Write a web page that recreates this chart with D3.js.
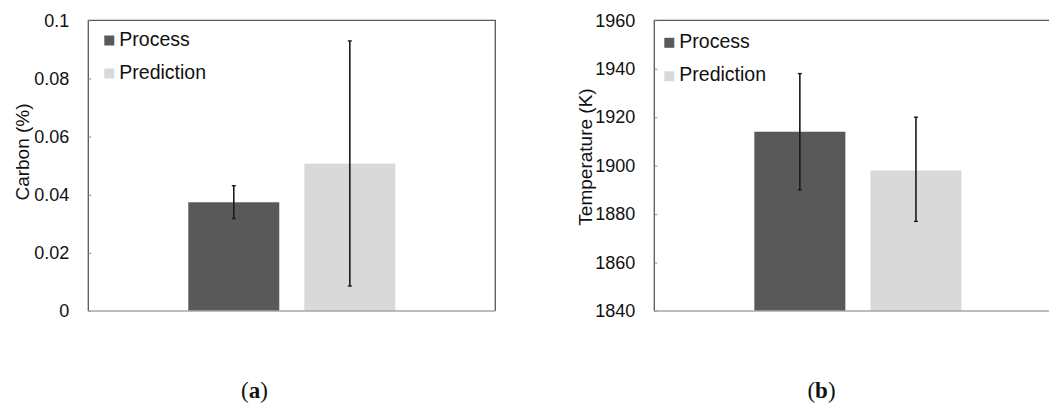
<!DOCTYPE html>
<html>
<head>
<meta charset="utf-8">
<script src="https://cdn.jsdelivr.net/npm/d3@7"></script>
<style>
  html, body { margin: 0; padding: 0; background: #fff; }
  svg { display: block; }
</style>
</head>
<body>
<svg id="chart" width="1049" height="405"></svg>
<script>
// ---- data ----
const series = ["Process", "Prediction"];
const seriesColors = ["#595959", "#d9d9d9"];
const group = ["all"];

const carbonMean = [0.0374, 0.0507];
const carbonLow  = [0.0318, 0.0086];
const carbonHigh = [0.0431, 0.0929];
const carbonTicks = [0, 0.02, 0.04, 0.06, 0.08, 0.1];
const carbonTickLabels = ["0", "0.02", "0.04", "0.06", "0.08", "0.1"];

const tempMean = [1914, 1898];
const tempLow  = [1890, 1877];
const tempHigh = [1938, 1920];
const tempTicks = [1840, 1860, 1880, 1900, 1920, 1940, 1960];
const tempTickLabels = ["1840", "1860", "1880", "1900", "1920", "1940", "1960"];

const svg = d3.select("#chart");
const sans = "'Liberation Sans', Arial, sans-serif";

function panel(opts) {
  const { left, right, top, bottom, domain, mean, low, high, ticks, tickLabels,
          yTitle, titleX, titleY, legendX, legendY, legendGap, caption, captionX } = opts;
  const g = svg.append("g");

  const y = d3.scaleLinear().domain(domain).range([bottom, top]);
  const x0 = d3.scaleBand().domain(group).range([left, right]).paddingInner(0).paddingOuter(0.483);
  const x1 = d3.scaleBand().domain(series).range([0, x0.bandwidth()]).paddingInner(0.216).paddingOuter(0);
  const color = d3.scaleOrdinal().domain(series).range(seriesColors);

  const rows = series.map((s, i) => ({ s, v: mean[i], lo: low[i], hi: high[i] }));

  // frame (left, top, right)
  g.append("path")
    .attr("d", `M${left},${bottom}V${top}H${right}V${bottom}`)
    .attr("fill", "none").attr("stroke", "#595959").attr("stroke-width", 1.3);

  // y axis labels + small inner ticks
  const yAxis = d3.axisLeft(y).tickValues(ticks)
    .tickFormat((d, i) => tickLabels[i]).tickSizeInner(-3).tickSizeOuter(0).tickPadding(19);
  const ya = g.append("g").attr("transform", `translate(${left},0)`).call(yAxis);
  ya.select(".domain").remove();
  ya.selectAll(".tick line").attr("stroke", "#8a8a8a");
  ya.selectAll(".tick text").attr("font-family", sans).attr("font-size", 18).attr("fill", "#111");

  // bars
  const gx = x0(group[0]);
  g.selectAll("rect.bar").data(rows).join("rect")
    .attr("class", "bar")
    .attr("x", d => gx + x1(d.s))
    .attr("width", x1.bandwidth())
    .attr("y", d => y(d.v))
    .attr("height", d => y(domain[0]) - y(d.v))
    .attr("fill", d => color(d.s));

  // bottom axis line
  g.append("line").attr("x1", left).attr("x2", right).attr("y1", bottom).attr("y2", bottom)
    .attr("stroke", "#a6a6a6").attr("stroke-width", 1.6);

  // error bars
  const eb = g.selectAll("g.err").data(rows).join("g").attr("class", "err")
    .attr("transform", d => `translate(${gx + x1(d.s) + x1.bandwidth() / 2},0)`);
  eb.append("line").attr("y1", d => y(d.lo)).attr("y2", d => y(d.hi))
    .attr("stroke", "#1a1a1a").attr("stroke-width", 1.6);
  eb.append("line").attr("x1", -2).attr("x2", 2).attr("y1", d => y(d.hi)).attr("y2", d => y(d.hi))
    .attr("stroke", "#1a1a1a").attr("stroke-width", 1.4);
  eb.append("line").attr("x1", -2).attr("x2", 2).attr("y1", d => y(d.lo)).attr("y2", d => y(d.lo))
    .attr("stroke", "#1a1a1a").attr("stroke-width", 1.4);

  // y title
  g.append("text")
    .attr("transform", `translate(${titleX},${titleY}) rotate(-90)`)
    .attr("text-anchor", "middle").attr("dy", "0.35em")
    .attr("font-family", sans).attr("font-size", 19).attr("fill", "#111")
    .text(yTitle);

  // legend
  const lg = g.selectAll("g.leg").data(series).join("g").attr("class", "leg")
    .attr("transform", (d, i) => `translate(${legendX},${legendY + i * legendGap})`);
  lg.append("rect").attr("x", 0).attr("y", -10).attr("width", 10).attr("height", 10)
    .attr("fill", d => color(d));
  lg.append("text").attr("x", 15).attr("y", 0)
    .attr("font-family", sans).attr("font-size", 19.5).attr("fill", "#111")
    .text(d => d);

  // caption
  const cap = g.append("text").attr("x", captionX).attr("y", 398).attr("text-anchor", "middle")
    .attr("font-family", "'Liberation Serif', 'Times New Roman', serif").attr("font-size", 23).attr("fill", "#111");
  cap.append("tspan").text("(");
  cap.append("tspan").attr("font-weight", "bold").text(caption);
  cap.append("tspan").text(")");
}

panel({
  left: 88.3, right: 495.3, top: 20.3, bottom: 311,
  domain: [0, 0.1], mean: carbonMean, low: carbonLow, high: carbonHigh,
  ticks: carbonTicks, tickLabels: carbonTickLabels,
  yTitle: "Carbon (%)", titleX: 22, titleY: 152,
  legendX: 104.3, legendY: 45.5, legendGap: 33,
  caption: "a", captionX: 254.5
});

panel({
  left: 654.3, right: 1061.5, top: 20.3, bottom: 311,
  domain: [1840, 1960], mean: tempMean, low: tempLow, high: tempHigh,
  ticks: tempTicks, tickLabels: tempTickLabels,
  yTitle: "Temperature (K)", titleX: 585, titleY: 157,
  legendX: 664.3, legendY: 47.8, legendGap: 33.5,
  caption: "b", captionX: 821.5
});
</script>
</body>
</html>
